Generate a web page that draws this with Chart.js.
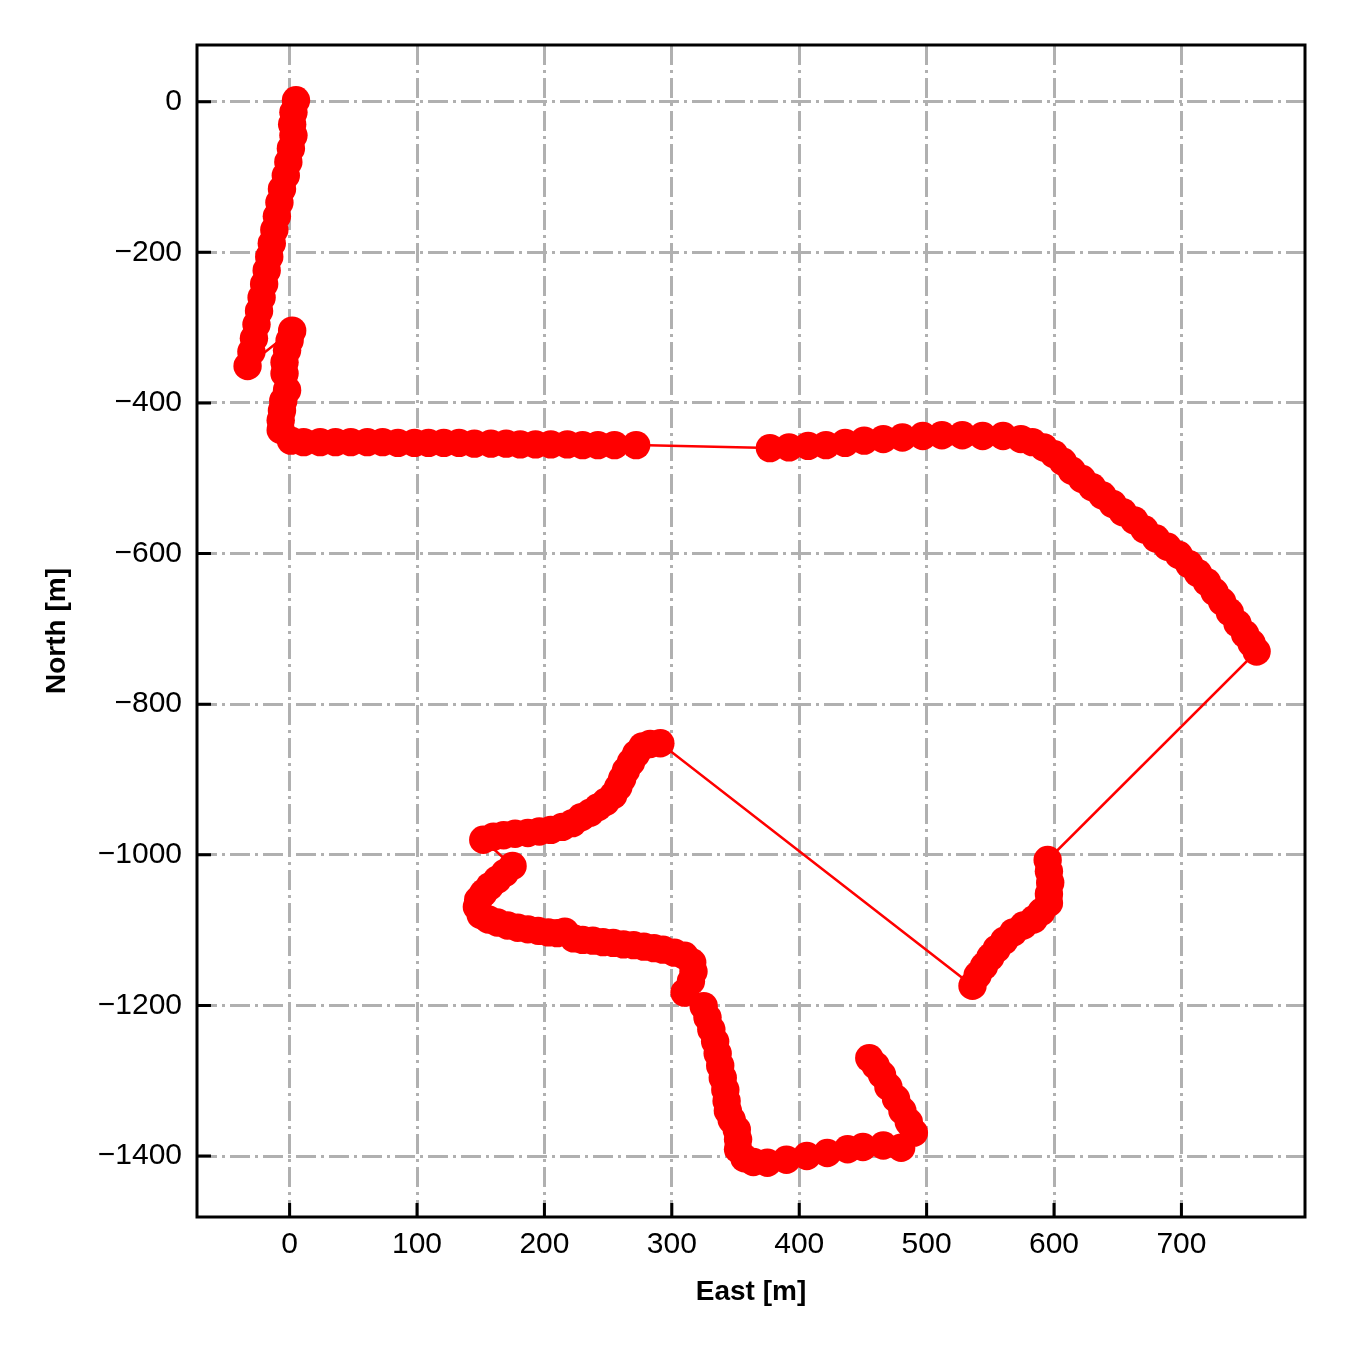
<!DOCTYPE html>
<html>
<head>
<meta charset="utf-8">
<script src="https://cdn.jsdelivr.net/npm/chart.js@4/dist/chart.umd.min.js"></script>
<style>
  html, body { margin: 0; padding: 0; background: #ffffff; }
  #wrap { width: 1350px; height: 1350px; }
</style>
</head>
<body>
<div id="wrap"><canvas id="c" width="1350" height="1350"></canvas></div>
<script>
// Track: East [m] and North [m], in driving order
const east = [
  5, 3, 2, 3, 1, -1, -3, -6, -8, -10, -12, -14, -16, -18, -20, -22, -24, -26, -28, -30, -33,
  2, 0, -2, -4, -4, -2, -5, -6, -7, -7, 1,
  11, 24, 36, 48, 61, 73, 85, 98, 109, 121, 133, 145, 158, 170, 181, 193, 205, 218, 230, 242, 255, 272,
  377, 392, 407, 421, 436, 451, 466, 481, 497, 512, 528, 544, 560, 574,
  583, 592, 600, 607, 614, 622, 630, 638, 646, 654, 663, 671, 680, 689, 698, 706, 713, 720, 726, 732, 738, 744, 750, 755, 759,
  595, 596, 597, 596, 596, 590, 584, 576, 568, 561, 555, 550, 545, 540, 536,
  291, 283, 277, 272, 268, 264, 261, 258, 254, 248, 242, 236, 229, 222, 214, 205, 196, 187, 177, 168, 160, 152,
  175, 169, 163, 157, 152, 148, 147, 150, 156, 163, 171, 179, 187, 195, 203, 210, 216,
  223, 230, 238, 246, 254, 262, 270, 278, 286, 293, 302, 310, 316, 317, 315, 310,
  325, 328, 331, 334, 336, 338, 340, 342, 343, 344, 347, 351, 352, 352, 357, 364,
  375, 390, 406, 422, 438, 450, 466, 480, 490, 486, 481, 476, 470, 465, 460, 455
];
const north = [
  2, -14, -30, -45, -62, -80, -98, -116, -134, -152, -170, -188, -206, -224, -242, -260, -278, -296, -314, -332, -351,
  -304, -317, -330, -346, -361, -383, -397, -410, -423, -436, -450,
  -452, -452, -452, -452, -452, -452, -453, -453, -453, -453, -453, -454, -454, -454, -455, -455, -455, -455, -456, -456, -456, -456,
  -460, -459, -457, -456, -453, -450, -448, -446, -444, -443, -443, -444, -444, -448,
  -452, -459, -468, -478, -490, -501, -512, -523, -534, -545, -556, -568, -580, -591, -602, -614, -626, -638, -651, -664, -678, -693, -707, -719, -730,
  -1007, -1022, -1037, -1052, -1064, -1076, -1086, -1094, -1103, -1114, -1125, -1136, -1148, -1160, -1174,
  -852, -853, -856, -866, -877, -888, -899, -910, -921, -930, -937, -944, -950, -958, -963, -967, -969, -971, -972, -974, -976, -980,
  -1015, -1024, -1033, -1042, -1051, -1060, -1069, -1080, -1086, -1090, -1094, -1097, -1099, -1101, -1103, -1104, -1102,
  -1111, -1113, -1114, -1116, -1117, -1119, -1120, -1122, -1124, -1126, -1130, -1134, -1143, -1155, -1168, -1183,
  -1201, -1216, -1232, -1248, -1264, -1280, -1296, -1312, -1327, -1340, -1352, -1365, -1378, -1391, -1403, -1408,
  -1409, -1405, -1400, -1396, -1391, -1388, -1386, -1389, -1369, -1355, -1340, -1324, -1308, -1292, -1280, -1270
];
const xTicks = [0, 100, 200, 300, 400, 500, 600, 700];
const yTicks = [0, -200, -400, -600, -800, -1000, -1200, -1400];
const xTitle = 'East [m]';
const yTitle = 'North [m]';

const points = east.map((e, i) => ({ x: e, y: north[i] }));

const fmt = v => (v < 0 ? '\u2212' + Math.abs(v) : String(v));

const frameTicks = {
  id: 'frameTicks',
  afterDatasetsDraw(chart) {
    const { ctx, chartArea: a, scales: { x, y } } = chart;
    ctx.save();
    ctx.setLineDash([]);
    ctx.strokeStyle = '#000000';
    ctx.lineWidth = 3;
    ctx.beginPath();
    x.ticks.forEach(t => {
      const px = x.getPixelForValue(t.value);
      ctx.moveTo(px, a.bottom);
      ctx.lineTo(px, a.bottom - 14);
    });
    y.ticks.forEach(t => {
      const py = y.getPixelForValue(t.value);
      ctx.moveTo(a.left, py);
      ctx.lineTo(a.left + 14, py);
    });
    ctx.stroke();
    ctx.strokeRect(a.left, a.top, a.right - a.left, a.bottom - a.top);
    ctx.restore();
  }
};

new Chart(document.getElementById('c'), {
  type: 'scatter',
  data: {
    datasets: [{
      data: points,
      showLine: true,
      borderColor: '#ff0000',
      borderWidth: 2.5,
      backgroundColor: '#ff0000',
      pointRadius: 14.2,
      pointBorderWidth: 0,
      pointBackgroundColor: '#ff0000',
      tension: 0
    }]
  },
  options: {
    responsive: false,
    animation: false,
    devicePixelRatio: 1,
    layout: { padding: { top: 45, right: 45, left: 0, bottom: 0 } },
    plugins: { legend: { display: false }, tooltip: { enabled: false } },
    scales: {
      x: {
        type: 'linear',
        min: -72.7,
        max: 797,
        afterBuildTicks: s => { s.ticks = xTicks.map(v => ({ value: v })); },
        afterFit: s => { s.height = 133; },
        grid: { color: '#b0b0b0', lineWidth: 3, drawTicks: false },
        border: { display: false, dash: [20, 5, 3, 5] },
        ticks: {
          color: '#000000',
          padding: 10,
          maxRotation: 0,
          font: { family: '"Liberation Sans", Arial, sans-serif', size: 30 },
          callback: v => fmt(v)
        },
        title: {
          display: true,
          text: xTitle,
          color: '#000000',
          font: { family: '"Liberation Sans", Arial, sans-serif', size: 28, weight: 'bold' },
          padding: { top: 0, bottom: 41 }
        }
      },
      y: {
        type: 'linear',
        min: -1481,
        max: 75.3,
        afterBuildTicks: s => { s.ticks = yTicks.map(v => ({ value: v })); },
        afterFit: s => { s.width = 197; },
        grid: { color: '#b0b0b0', lineWidth: 3, drawTicks: false },
        border: { display: false, dash: [20, 5, 3, 5] },
        ticks: {
          color: '#000000',
          padding: 15,
          font: { family: '"Liberation Sans", Arial, sans-serif', size: 30 },
          callback: v => fmt(v)
        },
        title: {
          display: true,
          text: yTitle,
          color: '#000000',
          font: { family: '"Liberation Sans", Arial, sans-serif', size: 28, weight: 'bold' },
          padding: { top: 40, bottom: 0 }
        }
      }
    }
  },
  plugins: [frameTicks]
});
</script>
</body>
</html>
